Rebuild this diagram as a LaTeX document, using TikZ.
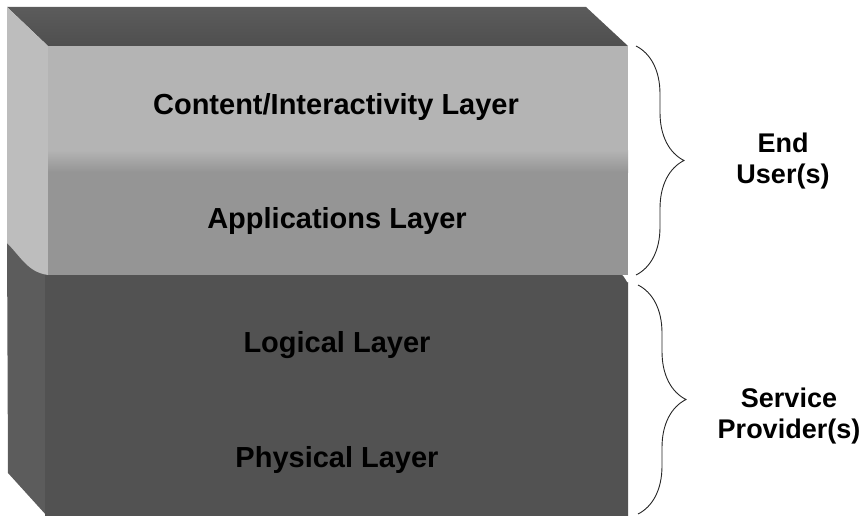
\documentclass[tikz,border=0pt]{standalone}
\usepackage{xcolor}
\usepackage{fontspec}
\setmainfont{Liberation Sans}
\usepackage{tikz}
\usetikzlibrary{decorations.pathreplacing}

\definecolor{topface}{HTML}{6C6C6C}
\definecolor{sideface}{HTML}{BDBDBD}
\definecolor{contentband}{HTML}{B4B4B4}
\definecolor{appband}{HTML}{959595}
\definecolor{lowerfront}{HTML}{525252}
\definecolor{lowerside}{HTML}{5C5C5C}

\begin{document}
\begin{tikzpicture}[x=1pt,y=-1pt,
    layer/.style={font=\fontsize{29}{31}\selectfont\bfseries, anchor=base, inner sep=0pt},
    role/.style={font=\fontsize{27}{31}\selectfont\bfseries, align=center, inner sep=0pt},
    bracket/.style={decorate, decoration={brace, amplitude=48pt}, draw=black!85, line width=0.9pt}]
  \useasboundingbox (0,0) rectangle (864,516);

  % lower block (logical + physical)
  \fill[lowerside] (7,238) -- (46,238) -- (46,516) -- (47,516) -- (8,473) -- cycle;
  \fill[lowerfront] (45,274) -- (620,274) to[out=0,in=-90] (628,282) -- (628,516) -- (45,516) -- cycle;

  % upper block (content + applications)
  \shade[top color=topface!85!black, bottom color=topface!120!white]
    (7,7) -- (586,7) -- (628,46) -- (48,46) -- cycle;
  \fill[sideface] (7,7) -- (48,46) -- (48,275) to[out=172,in=-45] (7,243) -- cycle;
  \fill[contentband] (48,46) rectangle (628,150);
  \shade[top color=contentband, bottom color=appband] (48,150) rectangle (628,172);
  \fill[appband] (48,172) rectangle (628,275);

  % layer labels
  \node[layer] (content) at (336,115) {Content/Interactivity Layer};
  \node[layer] (apps)    at (337,228) {Applications Layer};
  \node[layer] (logical) at (337,352) {Logical Layer};
  \node[layer] (phys)    at (337,467) {Physical Layer};

  % braces and who owns what
  \coordinate (eu-top) at (636,46);
  \coordinate (eu-bot) at (636,275);
  \coordinate (sp-top) at (638,285);
  \coordinate (sp-bot) at (638,514);
  \draw[bracket] (eu-top) -- (eu-bot);
  \draw[bracket] (sp-top) -- (sp-bot);
  \node[role] (enduser) at (783,161) {End\\User(s)};
  \node[role] (provider) at (789,416) {Service\\Provider(s)};
\end{tikzpicture}
\end{document}
